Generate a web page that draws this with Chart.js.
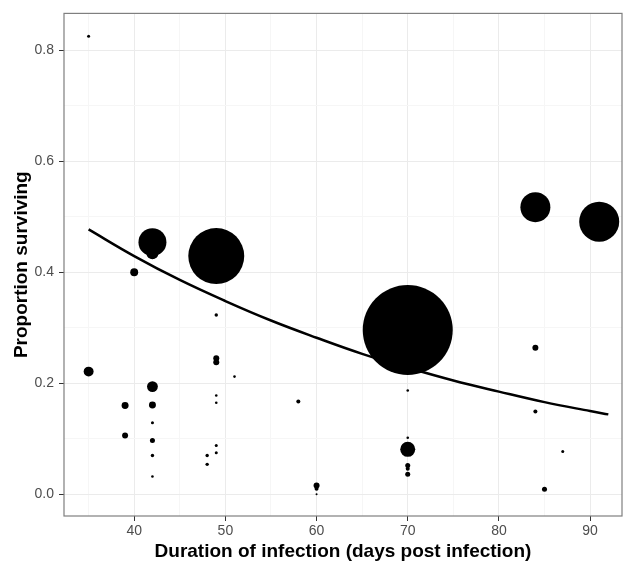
<!DOCTYPE html>
<html>
<head>
<meta charset="utf-8">
<script src="https://cdn.jsdelivr.net/npm/chart.js@4"></script>
<style>
  html, body { margin: 0; padding: 0; background: #fff; }
  #wrap { width: 624px; height: 565px; }
</style>
</head>
<body>
<div id="wrap"><canvas id="chart" width="624" height="565"></canvas></div>
<script>
// observed groups: day, proportion surviving, relative bubble weight
const days = [35, 35, 39, 39, 40, 42, 42, 42, 42, 42, 42, 42, 42, 48, 48, 49, 49, 49, 49, 49, 49, 49, 49,
  51, 58, 60, 60, 60, 70, 70, 70, 70, 70, 70, 70, 84, 84, 84, 85, 87, 91];
const surviving = [0.825, 0.221, 0.160, 0.106, 0.400, 0.454, 0.434, 0.194, 0.161, 0.129, 0.097, 0.070, 0.032,
  0.070, 0.054, 0.429, 0.323, 0.245, 0.238, 0.178, 0.165, 0.088, 0.075,
  0.212, 0.167, 0.016, 0.010, 0.000, 0.296, 0.187, 0.102, 0.081, 0.052, 0.046, 0.036,
  0.517, 0.264, 0.149, 0.009, 0.077, 0.491];
const weight = [1, 11, 5.4, 4, 7, 87, 16, 13, 5.4, 1, 2.8, 1.3, 0.75,
  1.3, 1.3, 348, 1.3, 4, 4, 0.75, 0.75, 1, 1,
  0.75, 1.8, 4, 1.8, 0.45, 900, 0.75, 0.75, 25, 2.8, 1.8, 2.8,
  100, 4, 1.8, 2.8, 1, 178];

// fitted curve
const fitDays = [35, 40, 45, 50, 55, 60, 65, 70, 75, 80, 85, 90, 92];
const fitSurv = [0.477, 0.429, 0.386, 0.348, 0.313, 0.282, 0.253, 0.228, 0.205, 0.185, 0.166, 0.150, 0.144];

const xTicks = [35, 40, 45, 50, 55, 60, 65, 70, 75, 80, 85, 90];
const yTicks = [0, 0.1, 0.2, 0.3, 0.4, 0.5, 0.6, 0.7, 0.8];
const xMajor = [40, 50, 60, 70, 80, 90];
const yMajor = [0, 0.2, 0.4, 0.6, 0.8];

const isMajor = (list, v) => list.some(m => Math.abs(m - v) < 1e-6);

const bubbles = days.map((d, i) => ({ x: d, y: surviving[i], r: 1.5 * Math.sqrt(weight[i]) }));
const fitLine = fitDays.map((d, i) => ({ x: d, y: fitSurv[i] }));

// panel border like ggplot theme_bw
const panelBorder = {
  id: 'panelBorder',
  afterDraw(chart) {
    const { ctx, chartArea: a } = chart;
    ctx.save();
    ctx.strokeStyle = '#7f7f7f';
    ctx.lineWidth = 1.2;
    ctx.strokeRect(a.left, a.top, a.right - a.left, a.bottom - a.top);
    ctx.restore();
  }
};

const font = "'Liberation Sans', Arial, sans-serif";

new Chart(document.getElementById('chart'), {
  data: {
    datasets: [
      {
        type: 'line',
        data: fitLine,
        borderColor: '#000',
        borderWidth: 2.5,
        pointRadius: 0,
        tension: 0.4,
        fill: false
      },
      {
        type: 'bubble',
        data: bubbles,
        backgroundColor: '#000',
        borderColor: '#000',
        borderWidth: 0,
        hoverRadius: 0
      }
    ]
  },
  options: {
    responsive: false,
    animation: false,
    layout: { autoPadding: false, padding: { top: 12, right: 2, left: 0, bottom: 0 } },
    plugins: { legend: { display: false }, tooltip: { enabled: false } },
    scales: {
      x: {
        type: 'linear',
        min: 32.3,
        max: 93.5,
        afterBuildTicks: s => { s.ticks = xTicks.map(v => ({ value: v })); },
        afterFit: s => { s.height = 49; },
        border: { display: false },
        grid: {
          color: c => isMajor(xMajor, c.tick.value) ? '#ebebeb' : '#f6f6f6',
          tickColor: c => isMajor(xMajor, c.tick.value) ? '#333' : 'rgba(0,0,0,0)',
          tickLength: 5,
          lineWidth: 1
        },
        ticks: {
          color: '#4d4d4d',
          font: { family: font, size: 14 },
          padding: 2,
          maxRotation: 0,
          autoSkip: false,
          callback: v => isMajor(xMajor, v) ? String(v) : ''
        },
        title: {
          display: true,
          text: 'Duration of infection (days post infection)',
          color: '#000',
          font: { family: font, size: 19, weight: 'bold' },
          padding: { top: 0, bottom: 2 }
        }
      },
      y: {
        type: 'linear',
        min: -0.039,
        max: 0.866,
        afterBuildTicks: s => { s.ticks = yTicks.map(v => ({ value: v })); },
        afterFit: s => { s.width = 64; },
        border: { display: false },
        grid: {
          color: c => isMajor(yMajor, c.tick.value) ? '#ebebeb' : '#f6f6f6',
          tickColor: c => isMajor(yMajor, c.tick.value) ? '#333' : 'rgba(0,0,0,0)',
          tickLength: 5,
          lineWidth: 1
        },
        ticks: {
          color: '#4d4d4d',
          font: { family: font, size: 14 },
          padding: 5,
          autoSkip: false,
          callback: v => isMajor(yMajor, v) ? v.toFixed(1) : ''
        },
        title: {
          display: true,
          text: 'Proportion surviving',
          color: '#000',
          font: { family: font, size: 19, weight: 'bold' },
          padding: { top: 10, bottom: 2 }
        }
      }
    }
  },
  plugins: [panelBorder]
});
</script>
</body>
</html>
